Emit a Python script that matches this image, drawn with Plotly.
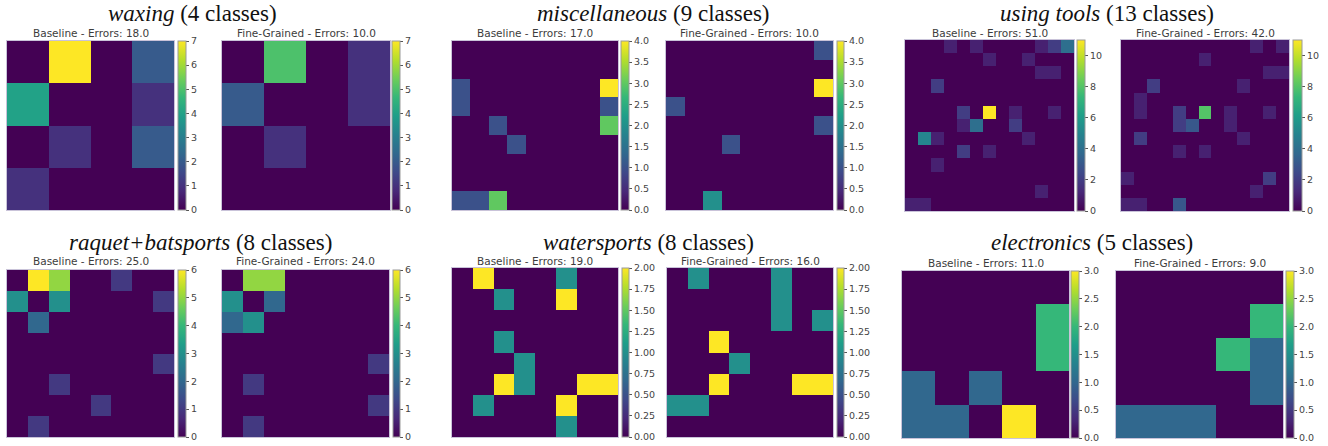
import plotly.graph_objects as go

W, H = 1328, 446

# ---------------- data (confusion-error matrices, row = true, col = predicted) -------------
waxing_baseline = [[0, 7, 0, 2],
                   [4, 0, 0, 1],
                   [0, 1, 0, 2],
                   [1, 0, 0, 0]]
waxing_fine = [[0, 5, 0, 1],
               [2, 0, 0, 1],
               [0, 1, 0, 0],
               [0, 0, 0, 0]]

misc_baseline = [[0, 0, 0, 0, 0, 0, 0, 0, 0],
                 [0, 0, 0, 0, 0, 0, 0, 0, 0],
                 [1, 0, 0, 0, 0, 0, 0, 0, 4],
                 [1, 0, 0, 0, 0, 0, 0, 0, 1],
                 [0, 0, 1, 0, 0, 0, 0, 0, 3],
                 [0, 0, 0, 1, 0, 0, 0, 0, 0],
                 [0, 0, 0, 0, 0, 0, 0, 0, 0],
                 [0, 0, 0, 0, 0, 0, 0, 0, 0],
                 [1, 1, 3, 0, 0, 0, 0, 0, 0]]
misc_fine = [[0, 0, 0, 0, 0, 0, 0, 0, 1],
             [0, 0, 0, 0, 0, 0, 0, 0, 0],
             [0, 0, 0, 0, 0, 0, 0, 0, 4],
             [1, 0, 0, 0, 0, 0, 0, 0, 0],
             [0, 0, 0, 0, 0, 0, 0, 0, 1],
             [0, 0, 0, 1, 0, 0, 0, 0, 0],
             [0, 0, 0, 0, 0, 0, 0, 0, 0],
             [0, 0, 0, 0, 0, 0, 0, 0, 0],
             [0, 0, 2, 0, 0, 0, 0, 0, 0]]

tools_baseline = [[0, 0, 0, 1, 0, 1, 0, 0, 0, 0, 1, 2, 4],
                  [0, 0, 0, 0, 0, 0, 1, 0, 0, 1, 0, 0, 0],
                  [0, 0, 0, 0, 0, 0, 0, 0, 0, 0, 1, 1, 0],
                  [0, 0, 2, 0, 0, 0, 0, 0, 0, 0, 0, 0, 0],
                  [0, 0, 0, 0, 0, 0, 0, 0, 0, 0, 0, 0, 0],
                  [0, 0, 0, 0, 2, 0, 11, 0, 1, 0, 0, 1, 0],
                  [0, 0, 0, 0, 1, 4, 0, 0, 2, 0, 0, 0, 0],
                  [0, 5, 1, 0, 0, 0, 0, 0, 0, 1, 0, 0, 0],
                  [0, 0, 0, 0, 2, 0, 1, 0, 0, 0, 0, 0, 0],
                  [0, 0, 1, 0, 0, 0, 0, 0, 0, 0, 0, 0, 0],
                  [0, 0, 0, 0, 0, 0, 0, 0, 0, 0, 0, 0, 0],
                  [0, 0, 0, 0, 0, 0, 0, 0, 0, 0, 1, 0, 0],
                  [1, 1, 0, 0, 0, 0, 0, 0, 0, 0, 0, 0, 0]]
tools_fine = [[0, 0, 0, 0, 0, 0, 0, 0, 0, 0, 1, 0, 1],
              [0, 0, 0, 0, 0, 0, 1, 0, 0, 0, 0, 0, 0],
              [0, 0, 0, 0, 0, 0, 0, 0, 0, 0, 0, 1, 1],
              [0, 0, 2, 0, 0, 0, 0, 0, 0, 1, 0, 0, 0],
              [0, 1, 0, 0, 0, 0, 0, 0, 0, 0, 0, 0, 0],
              [0, 1, 0, 0, 2, 0, 8, 0, 1, 0, 0, 1, 0],
              [0, 0, 0, 0, 2, 3, 0, 0, 1, 0, 0, 0, 0],
              [0, 2, 0, 0, 0, 0, 0, 0, 0, 1, 0, 0, 0],
              [0, 0, 0, 0, 1, 0, 1, 0, 0, 0, 0, 0, 0],
              [0, 0, 0, 0, 0, 0, 0, 0, 0, 0, 0, 0, 0],
              [1, 0, 0, 0, 0, 0, 0, 0, 0, 0, 0, 2, 0],
              [0, 0, 0, 0, 0, 0, 0, 0, 0, 0, 1, 0, 0],
              [1, 1, 0, 0, 3, 0, 0, 0, 0, 0, 0, 0, 0]]

raquet_baseline = [[0, 6, 5, 0, 0, 1, 0, 0],
                   [3, 0, 3, 0, 0, 0, 0, 1],
                   [0, 2, 0, 0, 0, 0, 0, 0],
                   [0, 0, 0, 0, 0, 0, 0, 0],
                   [0, 0, 0, 0, 0, 0, 0, 1],
                   [0, 0, 1, 0, 0, 0, 0, 0],
                   [0, 0, 0, 0, 1, 0, 0, 0],
                   [0, 1, 0, 0, 0, 0, 0, 0]]
raquet_fine = [[0, 5, 5, 0, 0, 0, 0, 0],
               [3, 0, 2, 0, 0, 0, 0, 0],
               [2, 3, 0, 0, 0, 0, 0, 0],
               [0, 0, 0, 0, 0, 0, 0, 0],
               [0, 0, 0, 0, 0, 0, 0, 1],
               [0, 1, 0, 0, 0, 0, 0, 0],
               [0, 0, 0, 0, 0, 0, 0, 1],
               [0, 1, 0, 0, 0, 0, 0, 0]]

water_baseline = [[0, 2, 0, 0, 0, 1, 0, 0],
                  [0, 0, 1, 0, 0, 2, 0, 0],
                  [0, 0, 0, 0, 0, 0, 0, 0],
                  [0, 0, 1, 0, 0, 0, 0, 0],
                  [0, 0, 0, 1, 0, 0, 0, 0],
                  [0, 0, 2, 1, 0, 0, 2, 2],
                  [0, 1, 0, 0, 0, 2, 0, 0],
                  [0, 0, 0, 0, 0, 1, 0, 0]]
water_fine = [[0, 1, 0, 0, 0, 1, 0, 0],
              [0, 0, 0, 0, 0, 1, 0, 0],
              [0, 0, 0, 0, 0, 1, 0, 1],
              [0, 0, 2, 0, 0, 0, 0, 0],
              [0, 0, 0, 1, 0, 0, 0, 0],
              [0, 0, 2, 0, 0, 0, 2, 2],
              [1, 1, 0, 0, 0, 0, 0, 0],
              [0, 0, 0, 0, 0, 0, 0, 0]]

elec_baseline = [[0, 0, 0, 0, 0],
                 [0, 0, 0, 0, 2],
                 [0, 0, 0, 0, 2],
                 [1, 0, 1, 0, 0],
                 [1, 1, 0, 3, 0]]
elec_fine = [[0, 0, 0, 0, 0],
             [0, 0, 0, 0, 2],
             [0, 0, 0, 2, 1],
             [0, 0, 0, 0, 1],
             [1, 1, 1, 0, 0]]

group_names = ["waxing", "miscellaneous", "using tools",
               "raquet+batsports", "watersports", "electronics"]
baseline_mats = [waxing_baseline, misc_baseline, tools_baseline,
                 raquet_baseline, water_baseline, elec_baseline]
fine_mats = [waxing_fine, misc_fine, tools_fine,
             raquet_fine, water_fine, elec_fine]
baseline_errors = [18.0, 17.0, 51.0, 25.0, 19.0, 11.0]
fine_errors = [10.0, 10.0, 42.0, 24.0, 16.0, 9.0]
cbar_dtick = [1, 0.5, 2, 1, 0.25, 0.5]
cbar_format = ["d", ".1f", "d", "d", ".2f", ".1f"]

# ---------------- layout geometry (reference pixels) ----------------
# per panel: heat x0, x1, y0, y1, colorbar x0, x1
panels = [
    [(7, 174, 41, 210, 178, 186), (222, 390, 41, 210, 392, 400)],
    [(452, 618, 41, 210, 621, 629), (666, 833, 41, 210, 837, 844)],
    [(905, 1074, 40, 211, 1077, 1085), (1121, 1289, 40, 211, 1293, 1302)],
    [(7, 174, 270, 437, 178, 186), (222, 389, 270, 437, 393, 400)],
    [(452, 618, 268, 437, 622, 629), (667, 833, 268, 437, 837, 844)],
    [(902, 1069, 271, 438, 1071, 1079), (1116, 1283, 271, 438, 1286, 1294)],
]
group_title_pos = [(192, 14), (653, 14), (1107, 14), (200, 242), (648, 242), (1092, 242)]
sub_y = [33.5, 33.5, 33.5, 260.5, 260.5, 262.5]


def px(x):
    return max(0.0, min(1.0, x / W))


def py(y):
    return max(0.0, min(1.0, 1 - y / H))


fig = go.Figure()
annotations = []
ax_i = 0
sub_font = dict(family="DejaVu Sans", size=10.5, color="#3c3c3c")

for g in range(6):
    mats = [baseline_mats[g], fine_mats[g]]
    vmax = max(max(max(r) for r in m) for m in mats)
    labels = [f"Baseline - Errors: {baseline_errors[g]:.1f}",
              f"Fine-Grained - Errors: {fine_errors[g]:.1f}"]
    for k in range(2):
        ax_i += 1
        hx0, hx1, hy0, hy1, cx0, cx1 = panels[g][k]
        m = mats[k]
        n = len(m)
        xa = "x" if ax_i == 1 else f"x{ax_i}"
        ya = "y" if ax_i == 1 else f"y{ax_i}"
        fig.add_trace(go.Heatmap(
            z=m, x=list(range(n)), y=list(range(n)),
            xaxis=xa, yaxis=ya,
            colorscale="Viridis", zmin=0, zmax=vmax,
            colorbar=dict(
                x=px(cx0), xanchor="left", xpad=0, ypad=0,
                y=(py(hy0) + py(hy1)) / 2, yanchor="middle",
                len=(hy1 - hy0) / H, lenmode="fraction",
                thickness=cx1 - cx0, thicknessmode="pixels",
                outlinewidth=1, outlinecolor="#9a9a9a",
                ticks="outside", ticklen=3, tickcolor="#555", tickwidth=1,
                tick0=0, dtick=cbar_dtick[g], tickformat=cbar_format[g],
                tickfont=dict(family="DejaVu Sans", size=9.5, color="#444"),
            ),
            hoverinfo="skip",
        ))
        axkey = "" if ax_i == 1 else str(ax_i)
        fig.layout["xaxis" + axkey] = dict(
            domain=[px(hx0), px(hx1)], anchor=ya, range=[-0.5, n - 0.5],
            showticklabels=False, showgrid=False, zeroline=False, ticks="",
            showline=True, mirror=True, linecolor="#c9c3d9", linewidth=1,
        )
        fig.layout["yaxis" + axkey] = dict(
            domain=[py(hy1), py(hy0)], anchor=xa, range=[n - 0.5, -0.5],
            showticklabels=False, showgrid=False, zeroline=False, ticks="",
            showline=True, mirror=True, linecolor="#c9c3d9", linewidth=1,
        )
        annotations.append(dict(
            text=labels[k], x=px((hx0 + hx1) / 2), y=py(sub_y[g]),
            xref="paper", yref="paper", xanchor="center", yanchor="middle",
            showarrow=False, font=sub_font,
        ))
    tx, ty = group_title_pos[g]
    n = len(baseline_mats[g])
    annotations.append(dict(
        text=f"<i>{group_names[g]}</i> ({n} classes)",
        x=px(tx), y=py(ty), xref="paper", yref="paper",
        xanchor="center", yanchor="middle", showarrow=False,
        font=dict(family="Liberation Serif", size=23, color="#111"),
    ))

fig.update_layout(
    width=W, height=H, margin=dict(l=0, r=0, t=0, b=0),
    paper_bgcolor="white", plot_bgcolor="white",
    annotations=annotations, showlegend=False,
)

# remove the browser's default 8px page margin so the figure fills the window
fig.write_html("out.html", config={"displayModeBar": False},
               post_script="document.body.style.margin='0px';")
